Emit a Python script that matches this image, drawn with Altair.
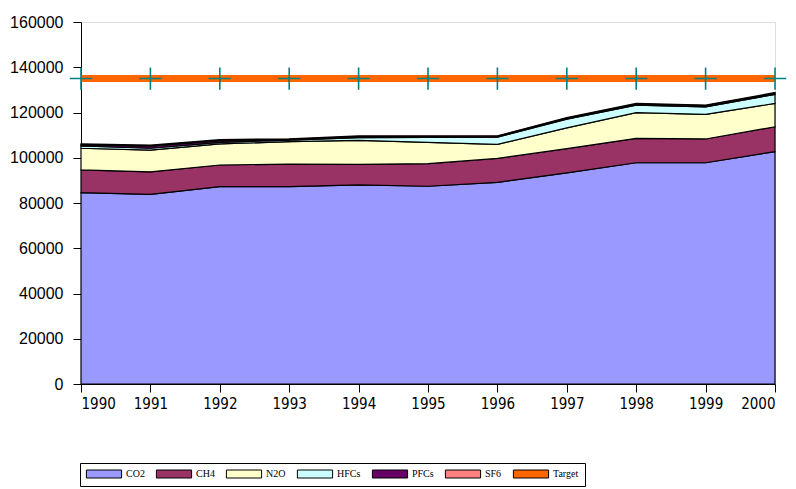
import altair as alt
import pandas as pd

years = [1990, 1991, 1992, 1993, 1994, 1995, 1996, 1997, 1998, 1999, 2000]
gases = ["CO2", "CH4", "N2O", "HFCs", "PFCs", "SF6"]
co2 = [84600, 83800, 87200, 87200, 88000, 87400, 89100, 93300, 97800, 97800, 102700]
ch4 = [10000, 10000, 9600, 10000, 9100, 10000, 10600, 10700, 10800, 10500, 11000]
n2o = [9600, 9600, 9300, 9900, 10600, 9400, 6200, 9200, 11300, 10900, 10300]
hfcs = [1000, 800, 700, 700, 1200, 2200, 3200, 3900, 3300, 3300, 4000]
pfcs = [500, 900, 800, 300, 500, 400, 400, 400, 500, 500, 500]
sf6 = [400, 500, 400, 300, 300, 300, 200, 200, 300, 300, 300]
target = [135000, 135000, 135000, 135000, 135000, 135000, 135000, 135000, 135000, 135000, 135000]

colors = ["#9999FF", "#993366", "#FFFFCC", "#CCFFFF", "#660066", "#FF8080", "#FF6600"]
legend_domain = gases + ["Target"]

series = [co2, ch4, n2o, hfcs, pfcs, sf6]
rows = []
for gi, (g, vals) in enumerate(zip(gases, series)):
    for y, v in zip(years, vals):
        rows.append({"year": y, "gas": g, "value": v, "order": gi})
df = pd.DataFrame(rows)
tdf = pd.DataFrame({"year": years, "target": target})

xscale = alt.Scale(domain=[1990, 2000], nice=False, zero=False)
yscale = alt.Scale(domain=[0, 160000], nice=False)

areas = alt.Chart(df).mark_area(stroke="black", strokeWidth=1.2, interpolate="linear").encode(
    x=alt.X("year:Q", scale=xscale, title=None,
            axis=alt.Axis(values=years, format="d", grid=False, tickSize=8, labelPadding=4,
                          labelFont="DejaVu Sans Condensed, Liberation Sans", labelFontSize=15,
                          labelColor="black", domainColor="black", tickColor="black")),
    y=alt.Y("value:Q", stack="zero", scale=yscale, title=None,
            axis=alt.Axis(values=[0, 20000, 40000, 60000, 80000, 100000, 120000, 140000, 160000],
                          grid=False, tickSize=8, labelPadding=10, format="d",
                          labelFont="Liberation Sans", labelFontSize=16,
                          labelColor="black", domainColor="black", tickColor="black")),
    fill=alt.Fill("gas:N", scale=alt.Scale(domain=legend_domain, range=colors),
                  legend=alt.Legend(orient="none", legendX=-1, legendY=441, direction="horizontal",
                                    title=None, symbolType="M-4.4,-1H4.4V1H-4.4Z", symbolSize=64,
                                    symbolOffset=13, symbolStrokeColor="black", symbolStrokeWidth=1,
                                    labelFont="Liberation Serif", labelFontSize=10, labelColor="black",
                                    labelOffset=17, columnPadding=9,
                                    strokeColor="black", fillColor="white", padding=6)),
    order=alt.Order("order:Q"),
)

line = alt.Chart(tdf).mark_line(color="#FF6600", strokeWidth=7).encode(
    x=alt.X("year:Q", scale=xscale),
    y=alt.Y("target:Q", scale=yscale),
)

pts = alt.Chart(tdf).mark_point(shape="M-1,0H1M0,-1V1", size=500, color="#008080",
                                filled=False, strokeWidth=1.6, opacity=1).encode(
    x=alt.X("year:Q", scale=xscale),
    y=alt.Y("target:Q", scale=yscale),
)

chart = alt.layer(areas, line, pts).properties(
    width=694, height=362,
    autosize=alt.AutoSizeParams(type="none"),
    padding={"left": 73, "top": 14, "right": 13, "bottom": 105},
).configure_view(stroke="#444444", strokeWidth=1).configure(background="white")

chart.save("out.html", embed_options={"renderer": "svg", "actions": False})
